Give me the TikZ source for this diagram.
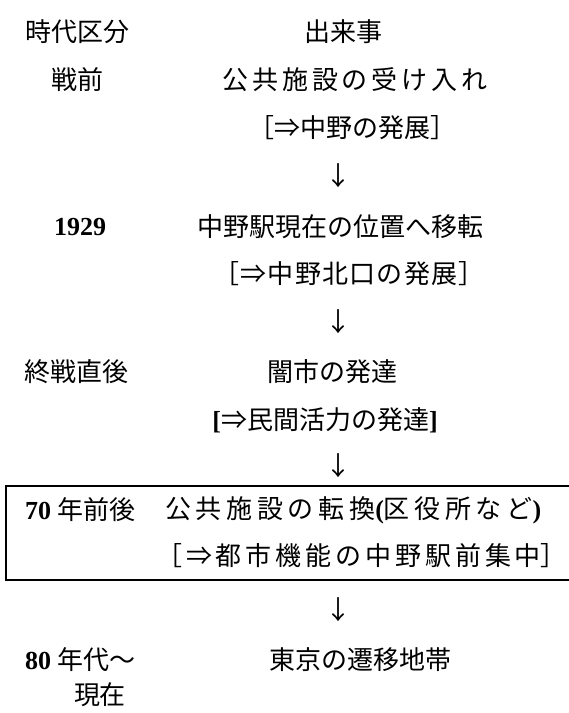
\documentclass[tikz,border=0pt]{standalone}
\usepackage{fontspec}
\setmainfont{Noto Sans CJK JP}
\newfontfamily\tnr{Liberation Serif}
\newfontfamily\cjkwideA[LetterSpace=15]{Noto Sans CJK JP}
\newfontfamily\cjkwideB[LetterSpace=18]{Noto Sans CJK JP}
\newfontfamily\cjkwideD[LetterSpace=15]{Noto Sans CJK JP}
\newfontfamily\cjkwideC[LetterSpace=5]{Noto Sans CJK JP}
\begin{document}
\begin{tikzpicture}[x=1pt,y=1pt,
  txt/.style={inner sep=0pt,anchor=center,font=\fontsize{26}{30}\selectfont},
  framebox/.style={draw,line width=2pt}]
\useasboundingbox (0,0) rectangle (569,-713);
% header
\node[txt] (h1) at (78,-32) {時代区分};
\node[txt] (h2) at (343,-32) {出来事};
% row 1
\node[txt] (p1) at (78,-80) {戦前};
\node[txt] (e1) at (355,-80) {\cjkwideA 公共施設の受け入れ};
\node[txt] (r1) at (352,-128) {［⇒中野の発展］};
\node[txt] (a1) at (338,-176) {↓};
% row 2
\node[txt] (p2) at (80,-227) {{\tnr\bfseries 1929}};
\node[txt] (e2) at (340,-227) {中野駅現在の位置へ移転};
\node[txt] (r2) at (349,-274) {\cjkwideC ［⇒中野北口の発展］};
\node[txt] (a2) at (338,-322) {↓};
% row 3
\node[txt] (p3) at (76,-372) {終戦直後};
\node[txt] (e3) at (332,-372) {闇市の発達};
\node[txt] (r3) at (325,-420) {{\tnr\bfseries [}⇒民間活力の発達{\tnr\bfseries ]}};
\node[txt] (a3) at (338,-466) {↓};
% row 4 (boxed)
\draw[framebox] (6,-486) rectangle (580,-580);
\node[txt,anchor=west] (p4) at (25,-510) {{\tnr\bfseries 70} 年前後};
\node[txt,anchor=west] (e4) at (165,-510) {\cjkwideB 公共施設の転換{\tnr\bfseries (}区役所など{\tnr\bfseries )}};
\node[txt,anchor=west] (r4) at (156,-556) {{\cjkwideD ［⇒都市機能の中野駅前集中}］};
\node[txt] (a4) at (338,-610) {↓};
% row 5
\node[txt,anchor=west] (p5) at (25,-660) {{\tnr\bfseries 80} 年代～};
\node[txt] (e5) at (360,-660) {東京の遷移地帯};
\node[txt] (p6) at (100,-695) {現在};
\end{tikzpicture}
\end{document}
